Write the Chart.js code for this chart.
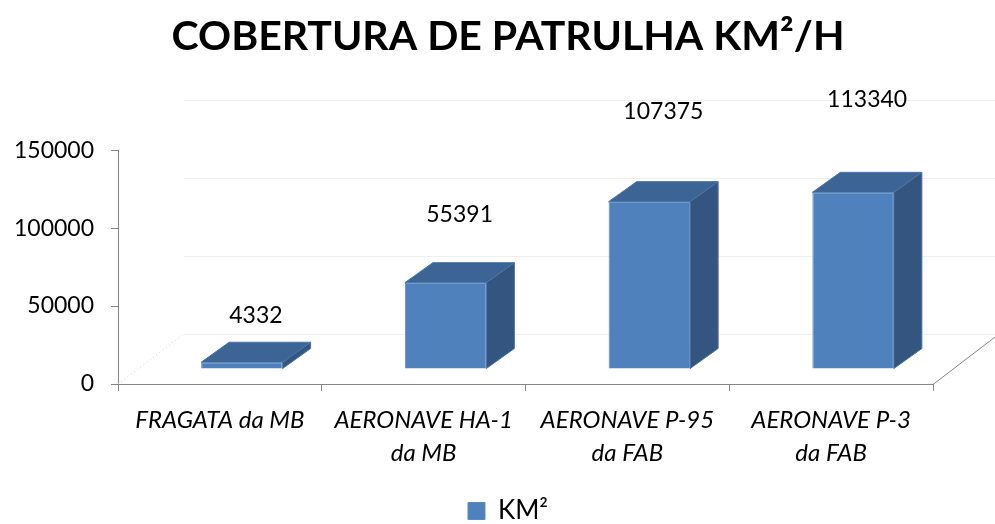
<!DOCTYPE html>
<html>
<head>
<meta charset="utf-8">
<script src="https://cdn.jsdelivr.net/npm/chart.js@4.4.1/dist/chart.umd.min.js"></script>
<style>
  html, body { margin: 0; padding: 0; background: #ffffff; }
  #wrap { width: 995px; height: 524px; }
</style>
</head>
<body>
<div id="wrap"><canvas id="patrolChart" width="995" height="524"></canvas></div>
<script>
// Chart data
const categories = [['FRAGATA da MB'], ['AERONAVE HA-1', 'da MB'], ['AERONAVE P-95', 'da FAB'], ['AERONAVE P-3', 'da FAB']];
const coverage = [4332, 55391, 107375, 113340];
const yTicks = [0, 50000, 100000, 150000];
const seriesName = 'KM²';

const FONT = 'Lato, "Open Sans", sans-serif';
const AXIS_GRAY = '#868686';

// 3D look: where the bars stand inside the floor and how deep they are
const barShift = { x: 22, y: -15 };
const barDepth = { x: 28, y: -20 };
const floorDepth = { x: 66, y: -50 };

// Draws the floor, the back wall gridlines and the top/side faces of the bars
const box3d = {
    id: 'box3d',
    beforeDatasetsDraw(chart) {
        const ctx = chart.ctx;
        const area = chart.chartArea;
        const yScale = chart.scales.y;

        ctx.save();
        // faint gridlines on the back wall
        ctx.strokeStyle = '#efefef';
        ctx.lineWidth = 1;
        yTicks.forEach(v => {
            const py = Math.round(yScale.getPixelForValue(v) + floorDepth.y) + 0.5;
            ctx.beginPath();
            ctx.moveTo(area.left + floorDepth.x, py);
            ctx.lineTo(area.right + floorDepth.x, py);
            ctx.stroke();
        });
        // floor edges
        ctx.setLineDash([1, 3]);
        ctx.strokeStyle = '#d0d0d0';
        ctx.beginPath();
        ctx.moveTo(area.left, area.bottom);
        ctx.lineTo(area.left + floorDepth.x, area.bottom + floorDepth.y);
        ctx.stroke();
        ctx.setLineDash([]);
        ctx.strokeStyle = AXIS_GRAY;
        ctx.beginPath();
        ctx.moveTo(area.right, area.bottom + 0.5);
        ctx.lineTo(area.right + floorDepth.x, area.bottom + floorDepth.y);
        ctx.stroke();

        // top and side faces of each bar
        const meta = chart.getDatasetMeta(0);
        meta.data.forEach(bar => {
            const left = bar.x - bar.width / 2 + barShift.x;
            const right = bar.x + bar.width / 2 + barShift.x;
            const top = bar.y + barShift.y;
            const bottom = bar.base + barShift.y;

            ctx.fillStyle = '#3c6494';
            ctx.strokeStyle = '#4a74a8';
            ctx.beginPath();
            ctx.moveTo(left, top);
            ctx.lineTo(right, top);
            ctx.lineTo(right + barDepth.x, top + barDepth.y);
            ctx.lineTo(left + barDepth.x, top + barDepth.y);
            ctx.closePath();
            ctx.fill();
            ctx.stroke();

            ctx.fillStyle = '#33557f';
            ctx.beginPath();
            ctx.moveTo(right, top);
            ctx.lineTo(right + barDepth.x, top + barDepth.y);
            ctx.lineTo(right + barDepth.x, bottom + barDepth.y);
            ctx.lineTo(right, bottom);
            ctx.closePath();
            ctx.fill();
            ctx.stroke();
        });
        ctx.restore();

        // the front faces are drawn by Chart.js, moved into the floor
        ctx.save();
        ctx.translate(barShift.x, barShift.y);
    },
    afterDatasetsDraw(chart) {
        const ctx = chart.ctx;
        ctx.restore();

        // value labels above the bars
        const meta = chart.getDatasetMeta(0);
        ctx.save();
        ctx.font = '23px ' + FONT;
        ctx.fillStyle = '#000000';
        ctx.textAlign = 'center';
        ctx.textBaseline = 'middle';
        meta.data.forEach((bar, i) => {
            const height = bar.base - bar.y;
            const lx = bar.x + barShift.x + barDepth.x / 2;
            const ly = bar.y + barShift.y - 45 - 0.27 * height;
            ctx.fillText(String(coverage[i]), lx, ly);
        });
        ctx.restore();
    }
};

const ctx = document.getElementById('patrolChart').getContext('2d');
const patrolChart = new Chart(ctx, {
    type: 'bar',
    data: {
        labels: categories,
        datasets: [{
            label: seriesName,
            data: coverage,
            backgroundColor: '#4f81bd',
            borderColor: '#5a8ac4',
            borderWidth: 1,
            categoryPercentage: 1.0,
            barPercentage: 0.4
        }]
    },
    options: {
        responsive: false,
        animation: false,
        devicePixelRatio: 1,
        // negative right/bottom padding so title and legend sit where the original has them
        layout: { padding: { left: 0, right: -21, top: 0, bottom: -10 } },
        plugins: {
            title: {
                display: true,
                text: 'COBERTURA DE PATRULHA KM²/H',
                color: '#000000',
                font: { family: FONT, size: 41, weight: 'bold' },
                padding: { top: 12, bottom: 89 }
            },
            legend: {
                display: true,
                position: 'bottom',
                labels: {
                    color: '#000000',
                    font: { family: FONT, size: 26 },
                    boxWidth: 17,
                    boxHeight: 17,
                    padding: 2
                }
            },
            tooltip: { enabled: false }
        },
        scales: {
            x: {
                grid: {
                    display: true,
                    drawOnChartArea: false,
                    offset: true,
                    color: AXIS_GRAY,
                    tickLength: 7
                },
                border: { color: AXIS_GRAY, width: 1 },
                ticks: {
                    color: '#000000',
                    font: { family: FONT, size: 24, style: 'italic', lineHeight: 1.4 },
                    padding: 12,
                    maxRotation: 0,
                    autoSkip: false
                },
                afterFit(scale) { scale.height = 112; }
            },
            y: {
                min: 0,
                max: 150000,
                afterBuildTicks(scale) { scale.ticks = yTicks.map(v => ({ value: v })); },
                grid: {
                    display: true,
                    drawOnChartArea: false,
                    color: AXIS_GRAY,
                    tickLength: 7
                },
                border: { color: AXIS_GRAY, width: 1 },
                ticks: {
                    color: '#000000',
                    font: { family: FONT, size: 23 },
                    padding: 17,
                    callback: v => String(v)
                },
                afterFit(scale) { scale.width = 118; }
            },
            // empty axis on the right that keeps room for the receding floor
            side: {
                type: 'linear',
                position: 'right',
                display: true,
                grid: { display: false },
                border: { display: false },
                ticks: { display: false },
                afterFit(scale) { scale.width = 83; }
            }
        }
    },
    plugins: [box3d]
});
</script>
</body>
</html>
